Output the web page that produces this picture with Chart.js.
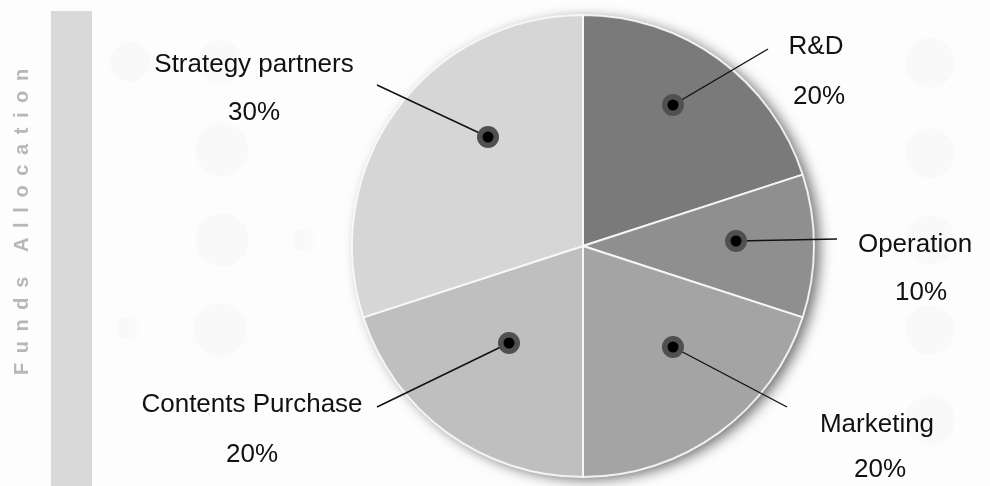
<!DOCTYPE html>
<html>
<head>
<meta charset="utf-8">
<script src="https://cdn.jsdelivr.net/npm/chart.js@4.4.1/dist/chart.umd.min.js"></script>
<style>
  html, body { margin: 0; padding: 0; background: #fdfdfd; }
  #wrap { width: 990px; height: 486px; }
</style>
</head>
<body>
<div id="wrap"><canvas id="fundsChart" width="990" height="486"></canvas></div>
<script>
// ===========
// CHART DATA
// ===========
var categories = ["R&D", "Operation", "Marketing", "Contents Purchase", "Strategy partners"];
var shares = [20, 10, 20, 20, 30];
var sliceColors = ["#7a7a7a", "#8f8f8f", "#a4a4a4", "#bfbfbf", "#d6d6d6"];
var sideTitle = "Funds Allocation";

// label layout, px offsets from the pie centre (dot, end of leader line, name, percent)
var labelLayout = [
    { dot: [90, -141],  end: [185, -197],  name: [233, -199],  pct: [236, -149] },
    { dot: [153, -5],   end: [254, -7],    name: [332, -1],    pct: [338, 47] },
    { dot: [90, 101],   end: [204, 161],   name: [294, 179],   pct: [297, 224] },
    { dot: [-74, 97],   end: [-206, 161],  name: [-331, 159],  pct: [-331, 209] },
    { dot: [-95, -109], end: [-206, -161], name: [-329, -181], pct: [-329, -133] }
];

// faint decoration circles in the background
var decoCircles = [
    [222, 150, 27], [222, 240, 27], [220, 330, 27], [303, 240, 11], [127, 328, 11],
    [930, 63, 25], [930, 153, 25], [930, 240, 25], [930, 330, 25], [930, 420, 25],
    [130, 62, 20], [220, 62, 22]
];

// =======================
// PLUGINS
// =======================

// background, side bar and rotated title
var backdropPlugin = {
    id: "backdrop",
    beforeDraw: function (chart) {
        var ctx = chart.ctx;
        ctx.save();
        ctx.fillStyle = "#fdfdfd";
        ctx.fillRect(0, 0, chart.width, chart.height);

        ctx.fillStyle = "rgba(0,0,0,0.014)";
        decoCircles.forEach(function (c) {
            ctx.beginPath();
            ctx.arc(c[0], c[1], c[2], 0, Math.PI * 2);
            ctx.fill();
        });

        // grey bar
        ctx.fillStyle = "#d9d9d9";
        ctx.fillRect(51, 11, 41, chart.height - 11);

        // vertical title with wide letter spacing
        ctx.translate(28, 222);
        ctx.rotate(-Math.PI / 2);
        ctx.font = "bold 20px 'Liberation Sans', Arial, sans-serif";
        ctx.fillStyle = "#b7b7b7";
        ctx.textBaseline = "alphabetic";
        var spacing = 9.6;
        var total = 0;
        for (var i = 0; i < sideTitle.length; i++) {
            total += ctx.measureText(sideTitle[i]).width + (i < sideTitle.length - 1 ? spacing : 0);
        }
        var x = -total / 2;
        for (var j = 0; j < sideTitle.length; j++) {
            ctx.fillText(sideTitle[j], x, 0);
            x += ctx.measureText(sideTitle[j]).width + spacing;
        }
        ctx.restore();
    }
};

// soft shadow under the pie
var shadowPlugin = {
    id: "pieShadow",
    beforeDatasetsDraw: function (chart) {
        var arc = chart.getDatasetMeta(0).data[0];
        if (!arc) return;
        var ctx = chart.ctx;
        ctx.save();
        ctx.shadowColor = "rgba(0,0,0,0.6)";
        ctx.shadowBlur = 14;
        ctx.shadowOffsetX = 6;
        ctx.shadowOffsetY = 3;
        ctx.fillStyle = "#cccccc";
        ctx.beginPath();
        ctx.arc(arc.x, arc.y, arc.outerRadius - 1, 0, Math.PI * 2);
        ctx.fill();
        ctx.restore();
    }
};

// dots, leader lines and text labels
var calloutPlugin = {
    id: "callouts",
    afterDatasetsDraw: function (chart) {
        var ctx = chart.ctx;
        var meta = chart.getDatasetMeta(0);
        var sum = shares.reduce(function (a, b) { return a + b; }, 0);
        ctx.save();
        meta.data.forEach(function (arc, i) {
            var lay = labelLayout[i];
            var cx = arc.x, cy = arc.y;
            var dx = cx + lay.dot[0], dy = cy + lay.dot[1];

            // leader line
            ctx.strokeStyle = "#111111";
            ctx.lineWidth = 1.4;
            ctx.beginPath();
            ctx.moveTo(dx, dy);
            ctx.lineTo(cx + lay.end[0], cy + lay.end[1]);
            ctx.stroke();

            // dot
            ctx.fillStyle = "#505050";
            ctx.beginPath();
            ctx.arc(dx, dy, 11, 0, Math.PI * 2);
            ctx.fill();
            ctx.fillStyle = "#000000";
            ctx.beginPath();
            ctx.arc(dx, dy, 5.5, 0, Math.PI * 2);
            ctx.fill();

            // texts
            ctx.font = "26px 'Liberation Sans', Arial, sans-serif";
            ctx.fillStyle = "#111111";
            ctx.textAlign = "center";
            ctx.textBaseline = "middle";
            ctx.fillText(categories[i], cx + lay.name[0], cy + lay.name[1]);
            ctx.fillText(Math.round(shares[i] / sum * 100) + "%", cx + lay.pct[0], cy + lay.pct[1]);
        });
        ctx.restore();
    }
};

// =======================
// CHART
// =======================
const ctx = document.getElementById("fundsChart");

const fundsChart = new Chart(ctx, {
    type: "pie",
    data: {
        labels: categories,
        datasets: [{
            data: shares,
            backgroundColor: sliceColors,
            borderColor: "rgba(250,250,250,0.9)",
            borderWidth: 2
        }]
    },
    options: {
        responsive: false,
        animation: false,
        layout: { padding: { top: 14, bottom: 8, left: 351, right: 175 } },
        plugins: {
            legend: { display: false },
            tooltip: { enabled: false }
        }
    },
    plugins: [backdropPlugin, shadowPlugin, calloutPlugin]
});
</script>
</body>
</html>
